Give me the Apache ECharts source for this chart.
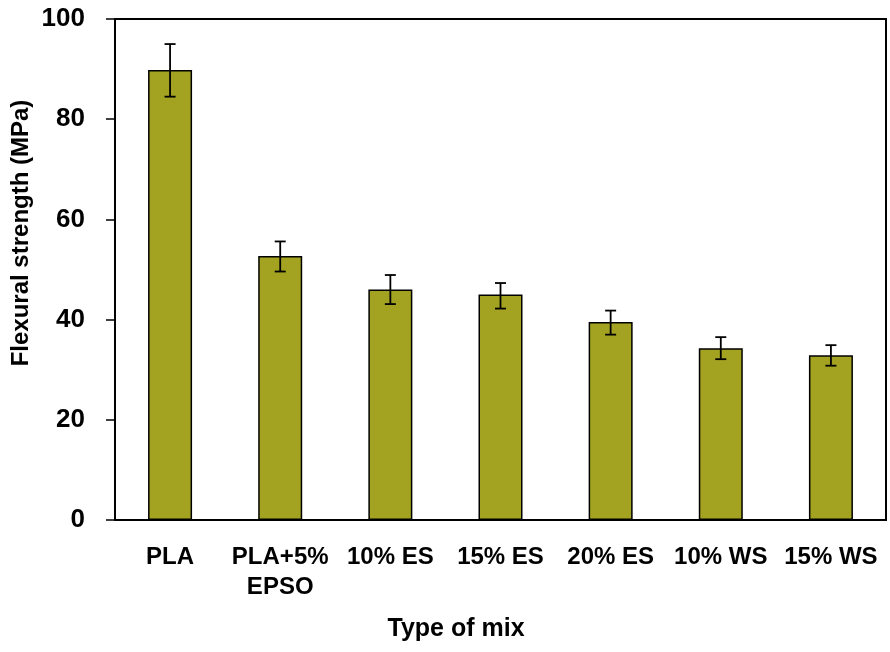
<!DOCTYPE html>
<html>
<head>
<meta charset="utf-8">
<script src="https://cdn.jsdelivr.net/npm/echarts@6/dist/echarts.min.js"></script>
<style>
  html, body { margin: 0; padding: 0; background: #fff; }
  #chart { width: 890px; height: 652px; }
</style>
</head>
<body>
<div id="chart"></div>
<script>
// data
var mixTypes = ["PLA", "PLA+5%\nEPSO", "10% ES", "15% ES", "20% ES", "10% WS", "15% WS"];
var strength = [89.8, 52.7, 46.0, 45.0, 39.5, 34.3, 32.9];
var errPlus = [5.2, 2.9, 2.9, 2.3, 2.3, 2.2, 2.0];
var errMinus = [5.3, 3.1, 2.9, 2.8, 2.5, 2.2, 2.1];

var fontFam = "'Liberation Sans', Arial, sans-serif";

var errData = strength.map(function (v, i) {
  return [i, v + errPlus[i], v - errMinus[i]];
});

var myChart = echarts.init(document.getElementById("chart"));
myChart.setOption({
  animation: false,
  grid: {
    left: 115,
    right: 4,
    top: 19,
    bottom: 132,
    show: true,
    borderColor: "#000",
    borderWidth: 2,
  },
  xAxis: {
    type: "category",
    data: mixTypes,
    axisLine: { lineStyle: { color: "#000", width: 2 } },
    axisTick: { alignWithLabel: true, length: 5, lineStyle: { color: "#000", width: 1.5 } },
    axisLabel: {
      interval: 0,
      margin: 22,
      color: "#000",
      fontSize: 24,
      fontWeight: "bold",
      fontFamily: fontFam,
      lineHeight: 30,
    },
  },
  yAxis: {
    type: "value",
    min: 0,
    max: 100,
    interval: 20,
    splitLine: { show: false },
    axisLine: { show: true, lineStyle: { color: "#000", width: 2 } },
    axisTick: { show: true, length: 9, lineStyle: { color: "#000", width: 1.5 } },
    axisLabel: {
      margin: 30,
      color: "#000",
      fontSize: 26,
      fontWeight: "bold",
      fontFamily: fontFam,
    },
  },
  graphic: [
    {
      type: "text",
      x: 21,
      y: 233,
      rotation: Math.PI / 2,
      style: {
        text: "Flexural strength (MPa)",
        fill: "#000",
        font: "bold 24px " + fontFam,
        textAlign: "center",
        textVerticalAlign: "middle",
      },
    },
    {
      type: "text",
      x: 456,
      y: 629,
      style: {
        text: "Type of mix",
        fill: "#000",
        font: "bold 25px " + fontFam,
        textAlign: "center",
        textVerticalAlign: "middle",
      },
    },
  ],
  series: [
    {
      type: "bar",
      data: strength,
      barWidth: 44,
      itemStyle: {
        color: "#a3a321",
        borderColor: "#000",
        borderWidth: 1.5,
      },
    },
    {
      type: "custom",
      data: errData,
      z: 10,
      renderItem: function (params, api) {
        var x = api.value(0);
        var hi = api.coord([x, api.value(1)]);
        var lo = api.coord([x, api.value(2)]);
        var half = 5.5;
        var style = { stroke: "#000", lineWidth: 1.8 };
        return {
          type: "group",
          children: [
            { type: "line", shape: { x1: hi[0], y1: hi[1], x2: lo[0], y2: lo[1] }, style: style },
            { type: "line", shape: { x1: hi[0] - half, y1: hi[1], x2: hi[0] + half, y2: hi[1] }, style: style },
            { type: "line", shape: { x1: lo[0] - half, y1: lo[1], x2: lo[0] + half, y2: lo[1] }, style: style },
          ],
        };
      },
    },
  ],
});
</script>
</body>
</html>
